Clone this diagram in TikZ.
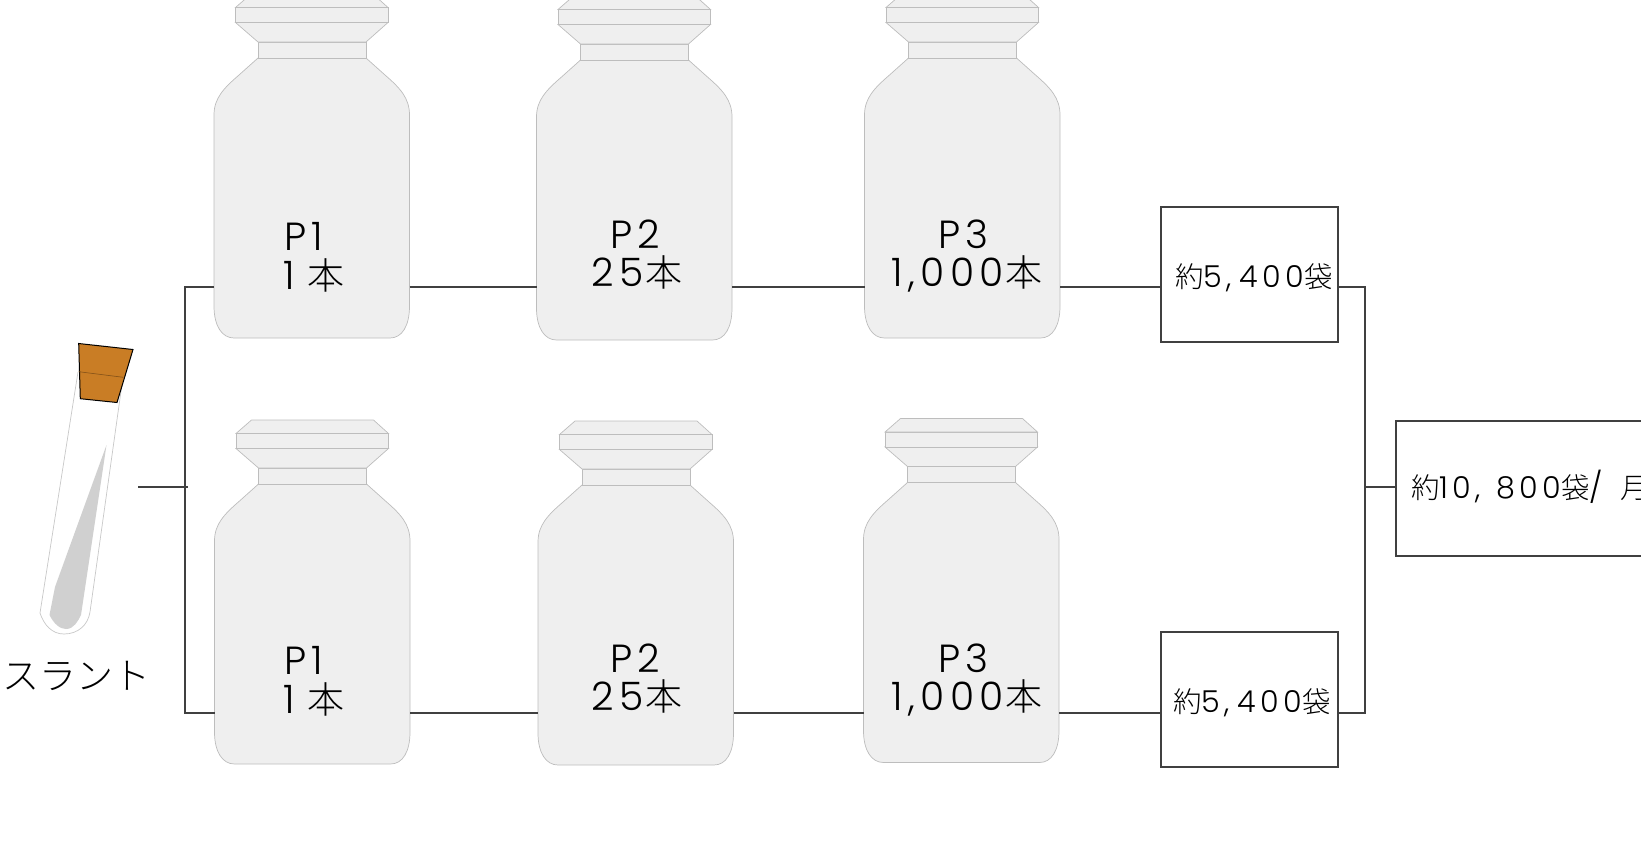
\documentclass[tikz,border=0pt]{standalone}
\usepackage{fontspec}
\setmainfont{Noto Sans CJK JP Light}
\newfontfamily\latbig[LetterSpace=14,Scale=1.06]{Poppins Light}
\newfontfamily\latsmall[LetterSpace=14,Scale=1.06]{Poppins Light}
\tikzset{
  x=1pt,y=-1pt,
  bottlepart/.style={draw=bottleedge,fill=bottlefill,line width=0.7pt},
  wire/.style={draw=wirecol,line width=1.7pt},
  countbox/.style={draw=wirecol,line width=1.6pt,fill=white,minimum width=177pt,minimum height=135pt,inner sep=0pt},
  bottlelabel/.style={font=\fontsize{37}{39}\selectfont,anchor=base west,inner sep=0pt,text=black},
  boxlabel/.style={font=\fontsize{28.5}{32}\selectfont,inner sep=0pt,anchor=base west,text=black}
}
\definecolor{bottleedge}{HTML}{BDBDBD}
\definecolor{bottlefill}{HTML}{EFEFEF}
\definecolor{wirecol}{HTML}{404040}
\definecolor{cork}{HTML}{C97D25}
\definecolor{slant}{HTML}{D0D0D0}
\definecolor{tubeedge}{HTML}{C8C8C8}
\newcommand{\latB}[1]{{\latbig #1}}
\newcommand{\latS}[1]{{\latsmall #1}}
% #1 left #2 bottom
\newcommand{\bottlepic}[2]{%
  \begin{scope}[shift={(#1-214,#2-338)}]
    \path[bottlepart] (258,58) -- (366,58) -- (385,75) .. controls (400,88) and (409.5,98) .. (409.5,115) -- (409.5,306)
      .. controls (409.5,326) and (402,338) .. (390,338) -- (234,338) .. controls (222,338) and (214,326) .. (214,306)
      -- (214,115) .. controls (214,98) and (224,88) .. (239,75) -- cycle;
    \path[bottlepart] (258,42) rectangle (366,58);
    \path[bottlepart] (258,42) -- (235.5,22.5) -- (388,22.5) -- (366,42) -- cycle;
    \path[bottlepart] (235.5,7.5) rectangle (388,22.5);
    \path[bottlepart] (235.5,7.5) -- (251,-6) -- (373,-6) -- (388,7.5) -- cycle;
  \end{scope}
}
\begin{document}
\begin{tikzpicture}
\useasboundingbox (0,0) rectangle (1641,860);
\clip (0,0) rectangle (1641,860);
\coordinate (busl) at (187.5,487);
\coordinate (busr) at (1365,487);
\coordinate (tubeout) at (138,487);

\bottlepic{214}{338}
\bottlepic{536.5}{340}
\bottlepic{864.5}{338}
\bottlepic{214.5}{764}
\bottlepic{538}{765}
\bottlepic{863.5}{762.5}
\coordinate (al) at (214,287); \coordinate (ar) at (409.5,287);
\coordinate (bl) at (536.5,287); \coordinate (br) at (732,287);
\coordinate (cl) at (864.5,287); \coordinate (cr) at (1060,287);
\coordinate (dl) at (214.5,713); \coordinate (dr) at (410,713);
\coordinate (el) at (538,713); \coordinate (er) at (733.5,713);
\coordinate (fl) at (863.5,713); \coordinate (fr) at (1059,713);

\node[bottlelabel] (ta1) at (284,250) {\latB{P1}};
\node[bottlelabel] (ta2) at (283,289) {\latB{1}\hspace{13pt}本};
\node[bottlelabel] (tb1) at (610,248) {\latB{P2}};
\node[bottlelabel] (tb2) at (591,286) {\latB{25}\hspace{2pt}本};
\node[bottlelabel] (tc1) at (938,248) {\latB{P3}};
\node[bottlelabel] (tc2) at (891,286) {\latB{1,000}\hspace{2pt}本};
\node[bottlelabel] (td1) at (284,674) {\latB{P1}};
\node[bottlelabel] (td2) at (283,713) {\latB{1}\hspace{13pt}本};
\node[bottlelabel] (te1) at (610,672) {\latB{P2}};
\node[bottlelabel] (te2) at (591,710) {\latB{25}\hspace{2pt}本};
\node[bottlelabel] (tf1) at (938,672) {\latB{P3}};
\node[bottlelabel] (tf2) at (891,710) {\latB{1,000}\hspace{2pt}本};

\node[countbox,anchor=north west] (g) at (1160,206) {};
\node[countbox,anchor=north west] (h) at (1160,631) {};
\node[countbox,anchor=north west,minimum width=246pt] (i) at (1395,420) {};
\node[boxlabel] (tg) at (1175,287) {約\latS{5,\hspace{8pt}400}袋};
\node[boxlabel] (th) at (1173,712) {約\latS{5,\hspace{8pt}400}袋};
\node[boxlabel] (ti) at (1411,498) {約\latS{10,\hspace{16pt}800}袋\latS{/}\hspace{17pt}月};

\draw[wire] (tubeout) -- (busl);
\draw[wire] (al) -| (185,713) -- (dl);
\draw[wire] (ar) -- (bl);
\draw[wire] (br) -- (cl);
\draw[wire] (cr) -- (g.west |- cr);
\draw[wire] (dr) -- (el);
\draw[wire] (er) -- (fl);
\draw[wire] (fr) -- (h.west |- fr);
\draw[wire] (g.east |- cr) -| (1365,713) -- (h.east |- fr);
\draw[wire] (busr) -- (i.west |- busr);

\path[draw=tubeedge,line width=0.7pt,fill=white] (78,372) -- (40,613) .. controls (44,625) and (52,634) .. (64,634) .. controls (78,634) and (88,625) .. (90,612) -- (123,377);
\path[fill=slant] (106.5,445) -- (55,587) -- (49.5,615) .. controls (54,624) and (60,629) .. (66,629) .. controls (74,629) and (78,621) .. (81,615) -- cycle;
\path[draw=black,line width=1pt,fill=cork] (78.7,343.5) -- (133,349.5) -- (117,402.5) -- (80.3,398.7) -- cycle;
\draw[draw=black!35!cork,line width=0.6pt] (78.7,371.7) -- (123.3,377.3);
\node[font=\fontsize{37}{40}\selectfont,inner sep=0pt] (slantlabel) at (76,675.5) {スラント};
\end{tikzpicture}
\end{document}
